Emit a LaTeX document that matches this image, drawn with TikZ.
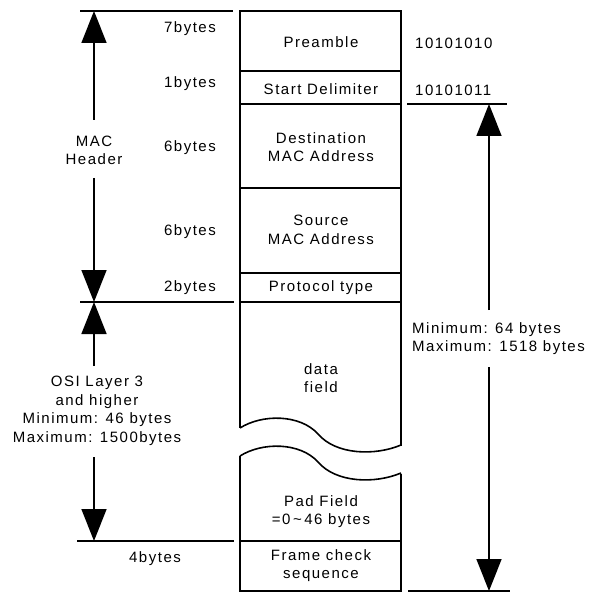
\documentclass[tikz,border=0pt]{standalone}
\usepackage{fontspec}
\setmainfont{Liberation Sans}[LetterSpace=10]
\usetikzlibrary{arrows.meta}
\tikzset{
  ln/.style={line width=1.6pt, line cap=butt},
  dim/.style={line width=1.6pt, -{Triangle[length=32pt,width=25pt]}},
  txt/.style={inner sep=0pt, font=\fontsize{15}{18.5}\selectfont, align=center},
}
\begin{document}
\begin{tikzpicture}[x=1pt,y=-1pt]
\useasboundingbox (0,0) rectangle (589,593);
% box outline
\draw[ln] (240,427.5) -- (240,11) -- (401,11) -- (401,445.5);
\draw[ln] (240,428) .. controls (262,414) and (300,414) .. (318,434)
   .. controls (336,455) and (375,456) .. (401,445);
\draw[ln] (240,456) .. controls (262,442) and (300,442) .. (318,462)
   .. controls (336,483) and (375,484) .. (401,473);
\draw[ln] (240,455.5) -- (240,591) -- (401,591) -- (401,473.5);
\foreach \yy in {71,104,188,273,302,541} {
  \draw[ln] (240,\yy) -- (401,\yy);
}
% box texts
\node[txt] (pre) at (321,42) {Preamble};
\node[txt] (sd) at (321,89) {Start Delimiter};
\node[txt] (dst) at (321,147) {Destination\\MAC Address};
\node[txt] (src) at (321,230) {Source\\MAC Address};
\node[txt] (pt) at (321,288) {Protocol type};
\node[txt] (df) at (321,378) {data\\field};
\node[txt] (pad) at (321,511.5) {Pad Field\\=0\,\char"007E\,46 bytes};
\node[txt] (fcs) at (321,565.5) {Frame check\\sequence};
% byte labels
\node[txt,anchor=east] (b7) at (216,29) {7bytes};
\node[txt,anchor=east] (b1) at (216,84) {1bytes};
\node[txt,anchor=east] (b6a) at (216,148) {6bytes};
\node[txt,anchor=east] (b6b) at (216,232) {6bytes};
\node[txt,anchor=east] (b2) at (216,288) {2bytes};
\node[txt] (b4) at (155,559) {4bytes};
\node[txt,anchor=west] (p1) at (415,43) {10101010};
\node[txt,anchor=west] (p2) at (415,90) {10101011};
% horizontal reference lines
\coordinate (h1a) at (80,11);   \coordinate (h1b) at (233,11);
\coordinate (h2a) at (80,302);  \coordinate (h2b) at (234,302);
\coordinate (h3a) at (77,541);  \coordinate (h3b) at (234,541);
\coordinate (h4a) at (407,104); \coordinate (h4b) at (507,104);
\coordinate (h5a) at (408,591); \coordinate (h5b) at (510,591);
\draw[ln] (h1a) -- (h1b);
\draw[ln] (h2a) -- (h2b);
\draw[ln] (h3a) -- (h3b);
\draw[ln] (h4a) -- (h4b);
\draw[ln] (h5a) -- (h5b);
% left dimension: MAC header
\node[txt] (mac) at (94,150.5) {MAC\\Header};
\coordinate (m1) at (94,120);
\coordinate (m2) at (94,178);
\coordinate (m3) at (94,11);
\coordinate (m4) at (94,302);
\draw[dim] (m1) -- (m3);
\draw[dim] (m2) -- (m4);
% left dimension: OSI
\node[txt] (osi) at (97,411) {OSI Layer 3\\and higher\\Minimum: 46 bytes\\Maximum: 1500bytes};
\coordinate (o1) at (94,366);
\coordinate (o2) at (94,457);
\coordinate (o3) at (94,541);
\draw[dim] (o1) -- (m4);
\draw[dim] (o2) -- (o3);
% right dimension
\node[txt,anchor=west,align=left] (mm) at (412,338.5) {Minimum: 64 bytes\\Maximum: 1518 bytes};
\coordinate (r1) at (489,310);
\coordinate (r2) at (489,104);
\coordinate (r3) at (489,367);
\coordinate (r4) at (489,591);
\draw[dim] (r1) -- (r2);
\draw[dim] (r3) -- (r4);
\end{tikzpicture}
\end{document}
